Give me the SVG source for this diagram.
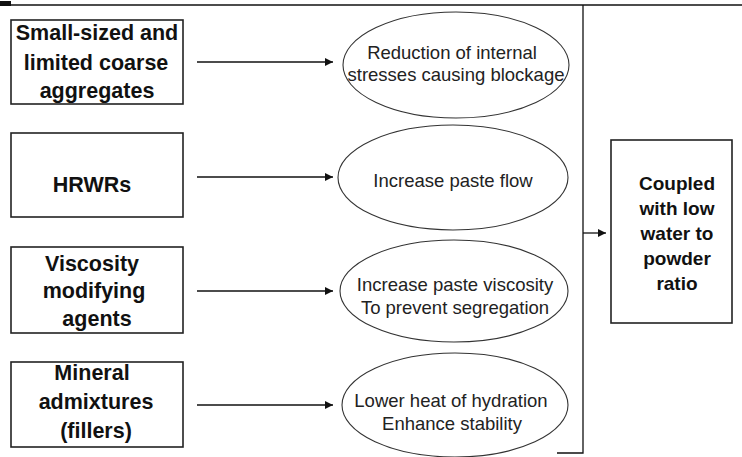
<svg xmlns="http://www.w3.org/2000/svg" width="742" height="457" viewBox="0 0 742 457">
  <defs>
    <marker id="ah" viewBox="0 0 10 10" refX="10" refY="5" markerWidth="10" markerHeight="8" markerUnits="userSpaceOnUse" orient="auto">
      <path d="M0,0 L10,5 L0,10 z" fill="#111"/>
    </marker>
    <style>
      .box { fill: #fff; stroke: #222; stroke-width: 1.6; }
      .ell { fill: #fff; stroke: #333; stroke-width: 1.1; }
      .btxt { font-family: "Liberation Sans", Arial, sans-serif; font-weight: bold; font-size: 21.5px; fill: #111; text-anchor: middle; }
      .rtxt { font-family: "Liberation Sans", Arial, sans-serif; font-weight: bold; font-size: 19px; fill: #111; text-anchor: middle; }
      .etxt { font-family: "Liberation Sans", Arial, sans-serif; font-size: 18.5px; fill: #222; text-anchor: middle; }
      .line { fill: none; stroke: #111; stroke-width: 1.3; }
      .arr { fill: none; stroke: #111; stroke-width: 1.3; marker-end: url(#ah); }
    </style>
  </defs>
  <rect width="742" height="457" fill="#fff"/>

  <!-- frame lines -->
  <rect x="0" y="1" width="11" height="5" fill="#111"/>
  <line class="line" x1="0" y1="5" x2="742" y2="5"/>

  <g id="box1">
    <rect class="box" x="11" y="20" width="172" height="84"/>
    <text class="btxt" x="97" y="40">Small-sized and</text>
    <text class="btxt" x="96" y="70">limited coarse</text>
    <text class="btxt" x="97" y="98">aggregates</text>
  </g>
  <g id="box2">
    <rect class="box" x="11" y="133" width="172" height="84"/>
    <text class="btxt" x="92" y="192">HRWRs</text>
  </g>
  <g id="box3">
    <rect class="box" x="11" y="247" width="172" height="86"/>
    <text class="btxt" x="92" y="271">Viscosity</text>
    <text class="btxt" x="94" y="298">modifying</text>
    <text class="btxt" x="97" y="326">agents</text>
  </g>
  <g id="box4">
    <rect class="box" x="11" y="362" width="172" height="85"/>
    <text class="btxt" x="92" y="380">Mineral</text>
    <text class="btxt" x="96" y="409">admixtures</text>
    <text class="btxt" x="96" y="438">(fillers)</text>
  </g>

  <g id="ell1">
    <ellipse class="ell" cx="456" cy="65" rx="113" ry="53"/>
    <text class="etxt" x="452" y="59">Reduction of internal</text>
    <text class="etxt" x="456" y="81">stresses causing blockage</text>
  </g>
  <g id="ell2">
    <ellipse class="ell" cx="453" cy="177.5" rx="115" ry="52.5"/>
    <text class="etxt" x="453" y="187">Increase paste flow</text>
  </g>
  <g id="ell3">
    <ellipse class="ell" cx="454" cy="291" rx="114" ry="51"/>
    <text class="etxt" x="455" y="291">Increase paste viscosity</text>
    <text class="etxt" x="455" y="314">To prevent segregation</text>
  </g>
  <g id="ell4">
    <ellipse class="ell" cx="455" cy="405" rx="113" ry="52"/>
    <text class="etxt" x="451" y="407">Lower heat of hydration</text>
    <text class="etxt" x="452" y="430">Enhance stability</text>
  </g>

  <g id="result">
    <rect class="box" x="611" y="140" width="121" height="183"/>
    <text class="rtxt" x="677" y="190">Coupled</text>
    <text class="rtxt" x="677" y="215">with low</text>
    <text class="rtxt" x="677" y="240">water to</text>
    <text class="rtxt" x="677" y="265">powder</text>
    <text class="rtxt" x="677" y="290">ratio</text>
  </g>

  <g id="connectors">
    <line class="arr" x1="197" y1="62" x2="333" y2="62"/>
    <line class="arr" x1="197" y1="177" x2="333" y2="177"/>
    <line class="arr" x1="197" y1="291" x2="333" y2="291"/>
    <line class="arr" x1="197" y1="405" x2="333" y2="405"/>
    <polyline class="line" points="583,5 583,453 557,453"/>
    <line class="arr" x1="583" y1="233" x2="606" y2="233"/>
  </g>
</svg>
